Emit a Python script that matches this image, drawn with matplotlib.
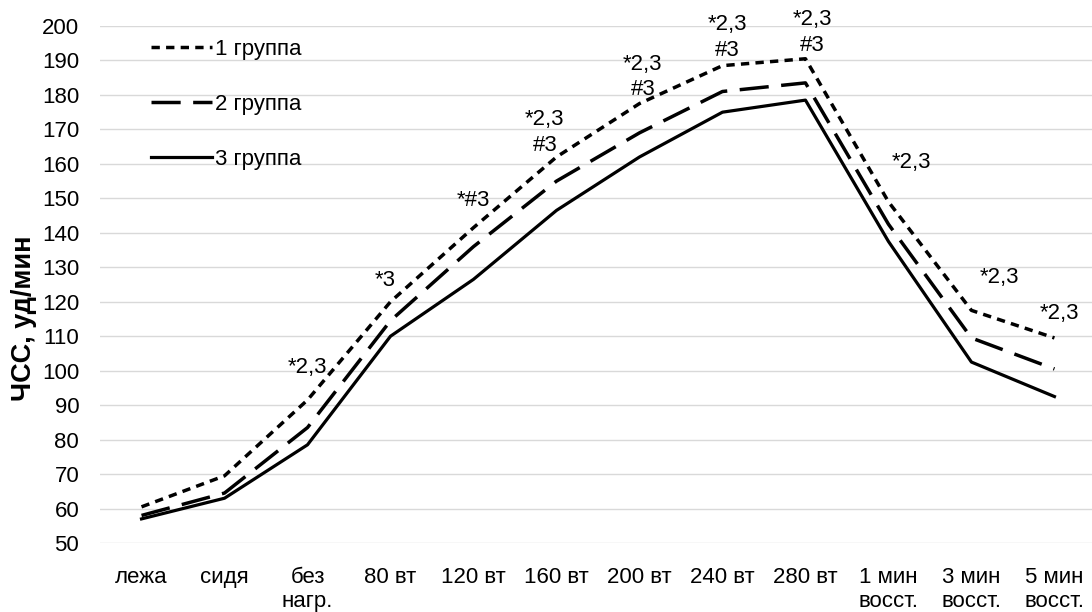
import matplotlib

matplotlib.use("Agg")
import matplotlib.pyplot as plt

plt.rcParams.update(
    {
        "font.family": ["Liberation Sans", "DejaVu Sans"],
        "font.size": 16,
        "lines.scale_dashes": False,
        "figure.facecolor": "white",
        "axes.facecolor": "white",
    }
)

categories = [
    "лежа", "сидя", "без\nнагр.", "80 вт", "120 вт", "160 вт",
    "200 вт", "240 вт", "280 вт", "1 мин\nвосст.", "3 мин\nвосст.", "5 мин\nвосст.",
]
group1 = [60.5, 69.5, 91.5, 120, 141.5, 162, 177.5, 188.5, 190.5, 149, 117.5, 109.5]
group2 = [58, 64.5, 83.5, 114.5, 136, 155, 169, 181, 183.5, 142.5, 109.5, 100.5]
group3 = [57, 63, 78.5, 110, 126.5, 146.5, 162, 175, 178.5, 137.5, 102.5, 92.5]
group_labels = ["1 группа", "2 группа", "3 группа"]

# significance marks and where their text sits
marks = ["*2,3", "*3", "*#3", "*2,3\n#3", "*2,3\n#3", "*2,3\n#3", "*2,3\n#3",
         "*2,3", "*2,3", "*2,3"]
mark_x = [2.0, 2.94, 4.0, 4.86, 6.04, 7.06, 8.08, 9.28, 10.34, 11.06]
mark_y = [100.8, 126.3, 149.5, 169.1, 185.2, 196.7, 198.1, 160.3, 126.9, 116.7]

fig = plt.figure(figsize=(10.92, 6.12), dpi=100)
ax = fig.add_axes([0.0916, 0.1127, 0.912, 0.8448])

x = list(range(len(categories)))
ax.plot(x, group1, color="black", lw=2.5, dashes=(6, 4.5), label=group_labels[0])
ax.plot(x, group2, color="black", lw=2.5, dashes=(21, 9), label=group_labels[1])
ax.plot(x, group3, color="black", lw=2.3, label=group_labels[2])

for m, mx, my in zip(marks, mark_x, mark_y):
    ax.text(mx, my, m, ha="center", va="center", fontsize=16, linespacing=1.3)

ax.set_xlim(-0.5, len(categories) - 0.5)
ax.set_ylim(50, 200)
ax.set_yticks(range(50, 201, 10))
ax.set_xticks(x)
ax.set_xticklabels(categories, linespacing=1.2)
ax.grid(True, axis="y", color="#d9d9d9", lw=1.0)
ax.set_axisbelow(True)
ax.tick_params(length=0)
ax.tick_params(axis="y", pad=15)
ax.tick_params(axis="x", pad=17)
for s in ax.spines.values():
    s.set_visible(False)

ax.set_ylabel("ЧСС, уд/мин", fontsize=19.5, fontweight="bold")
ax.yaxis.set_label_coords(-0.063, 0.435)

ax.legend(
    loc="upper left",
    bbox_to_anchor=(0.138, 0.936),
    bbox_transform=fig.transFigure,
    frameon=False,
    handlelength=2.75,
    handletextpad=0.15,
    labelspacing=1.53,
    borderaxespad=0,
    borderpad=0,
    fontsize=16,
)

fig.savefig("out.png", dpi=100)
